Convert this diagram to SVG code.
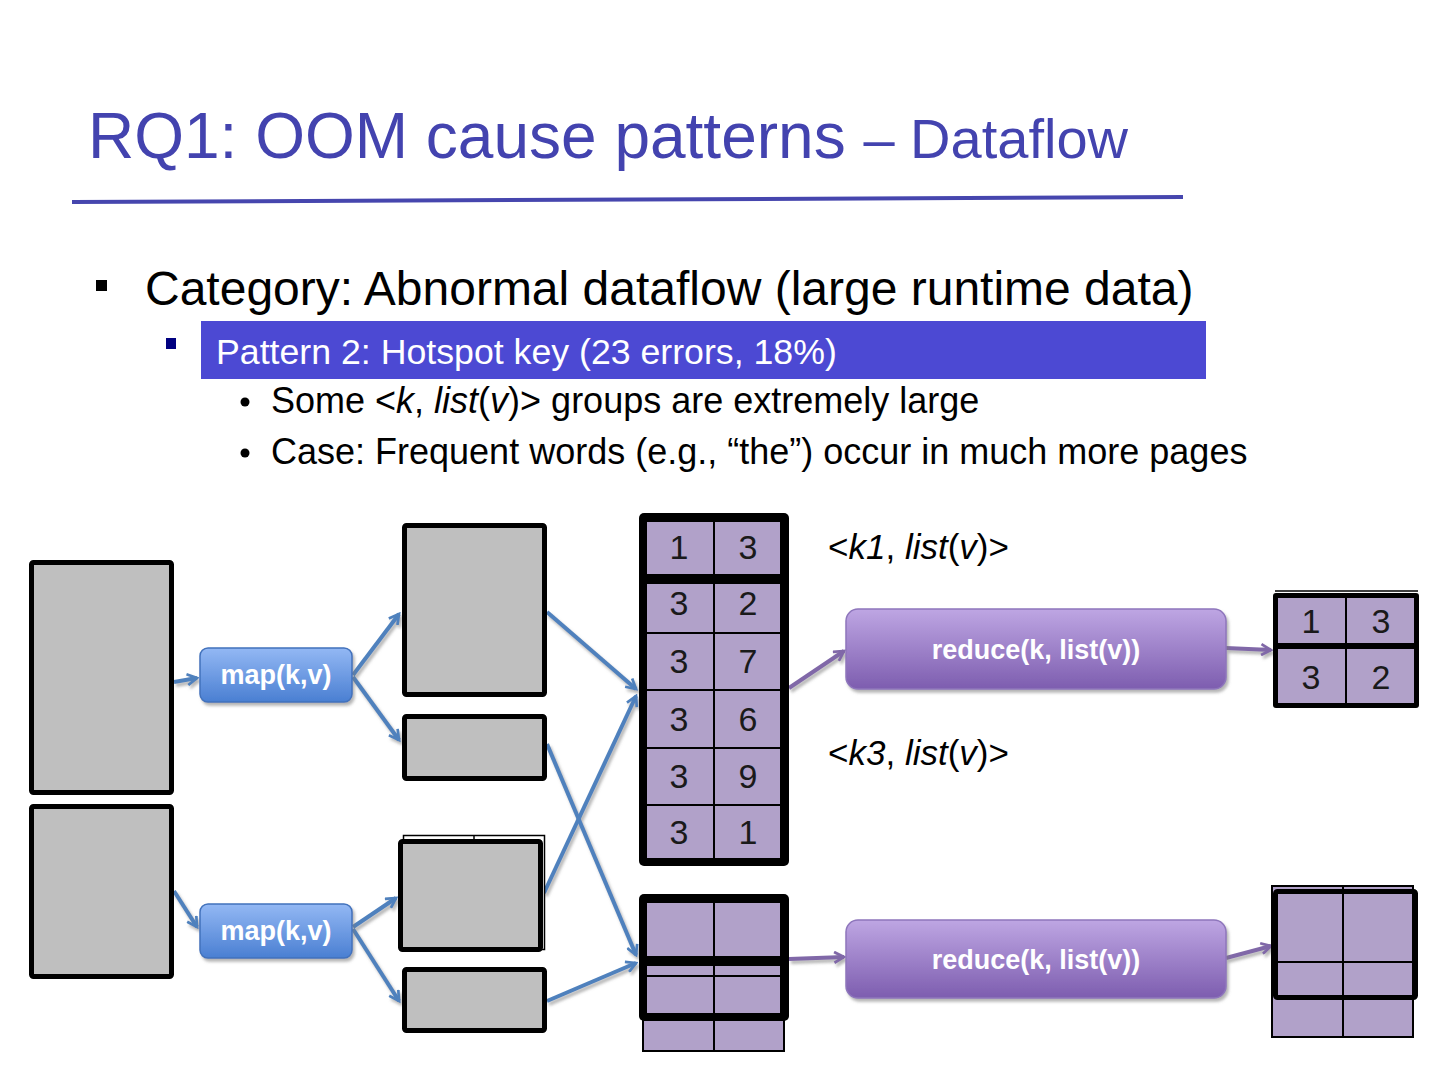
<svg xmlns="http://www.w3.org/2000/svg" width="1440" height="1080" viewBox="0 0 1440 1080">
<defs>
<style>
text{font-family:"Liberation Sans",Arial,sans-serif}
.title{fill:#4343AF}
.body{fill:#000}
.box{fill:#BFBFBF;stroke:#000;stroke-width:5}
.cell{fill:#B1A1C9}
.num{font-size:34px;fill:#1a1a1a;text-anchor:middle}
.btn{font-weight:bold;fill:#fff;text-anchor:middle}
.blue{fill:none;stroke:#4F81BD;stroke-width:4;marker-end:url(#ab)}
.purp{fill:none;stroke:#8068A8;stroke-width:4;marker-end:url(#ap)}
.thin{fill:none;stroke:#000;stroke-width:2}
</style>
<linearGradient id="gMap" x1="0" y1="0" x2="0" y2="1">
<stop offset="0" stop-color="#93B8F4"/>
<stop offset="1" stop-color="#4A7FD2"/>
</linearGradient>
<linearGradient id="gRed" x1="0" y1="0" x2="0" y2="1">
<stop offset="0" stop-color="#BEA6E3"/>
<stop offset="1" stop-color="#7D5DAF"/>
</linearGradient>
<filter id="sh" x="-20%" y="-20%" width="140%" height="140%">
<feDropShadow dx="2" dy="3" stdDeviation="1.5" flood-color="#777" flood-opacity="0.55"/>
</filter>
<marker id="ab" viewBox="0 0 12 12" refX="10" refY="6" markerWidth="13" markerHeight="13" markerUnits="userSpaceOnUse" orient="auto">
<path d="M1,1 L10,6 L1,11" fill="none" stroke="#4F81BD" stroke-width="2.5"/>
</marker>
<marker id="ap" viewBox="0 0 12 12" refX="10" refY="6" markerWidth="13" markerHeight="13" markerUnits="userSpaceOnUse" orient="auto">
<path d="M1,1 L10,6 L1,11" fill="none" stroke="#8068A8" stroke-width="2.5"/>
</marker>
</defs>
<rect width="1440" height="1080" fill="#fff"/>

<g id="header">
<text x="88" y="158" class="title" font-size="64">RQ1: OOM cause patterns <tspan font-size="56">– Dataflow</tspan></text>
<line x1="72" y1="202" x2="1183" y2="197" stroke="#4646AE" stroke-width="4"/>
<rect x="96" y="280" width="11" height="11" fill="#000"/>
<text x="145" y="305" class="body" font-size="48">Category: Abnormal dataflow (large runtime data)</text>
<rect x="166" y="338" width="10" height="11" fill="#000080"/>
<rect x="201" y="321" width="1005" height="58" fill="#4C49D3"/>
<text x="216" y="364" font-size="35.7" fill="#fff">Pattern 2: Hotspot key (23 errors, 18%)</text>
<circle cx="245" cy="402" r="4.5" fill="#000"/>
<text x="271" y="413" class="body" font-size="36">Some &lt;<tspan font-style="italic">k</tspan>, <tspan font-style="italic">list</tspan>(<tspan font-style="italic">v</tspan>)&gt; groups are extremely large</text>
<circle cx="245" cy="453" r="4.5" fill="#000"/>
<text x="271" y="464" class="body" font-size="36">Case: Frequent words (e.g., “the”) occur in much more pages</text>
</g>

<g id="connectors">
<g filter="url(#sh)">
<path class="blue" d="M174,682 L197,678"/>
<path class="blue" d="M174,891 L197,927"/>
<path class="blue" d="M353,675 L399,614"/>
<path class="blue" d="M353,677 L399,740"/>
<path class="blue" d="M353,927 L396,898"/>
<path class="blue" d="M353,929 L399,1001"/>
<path class="blue" d="M547,612 L636,689"/>
<path class="blue" d="M547,744 L636,955"/>
<path class="blue" d="M544,893 L636,696"/>
<path class="blue" d="M547,1001 L636,963"/>
<path class="purp" d="M789,688 L844,651"/>
<path class="purp" d="M1226,648 L1271,650"/>
<path class="purp" d="M789,959 L844,957"/>
<path class="purp" d="M1226,958 L1271,946"/>
</g>
</g>

<g id="inputA"><rect class="box" x="31.5" y="562.5" width="140" height="230" rx="2"/></g>
<g id="inputB"><rect class="box" x="31.5" y="806.5" width="140" height="170" rx="2"/></g>

<g id="map1">
<rect x="200" y="648" width="152" height="54" rx="8" fill="url(#gMap)" stroke="#4272BC" stroke-width="1.5" filter="url(#sh)"/>
<text x="276" y="684" class="btn" font-size="27">map(k,v)</text>
</g>
<g id="map2">
<rect x="200" y="904" width="152" height="54" rx="8" fill="url(#gMap)" stroke="#4272BC" stroke-width="1.5" filter="url(#sh)"/>
<text x="276" y="940" class="btn" font-size="27">map(k,v)</text>
</g>

<g id="boxC"><rect class="box" x="404.5" y="525.5" width="140" height="169" rx="2"/></g>
<g id="boxD"><rect class="box" x="404.5" y="716.5" width="140" height="62" rx="2"/></g>
<g id="boxE">
<rect x="403.5" y="835.5" width="141" height="114" fill="#fff" stroke="#000" stroke-width="1.5"/>
<line x1="474" y1="835" x2="474" y2="842" stroke="#000" stroke-width="1.5"/>
<rect class="box" x="400.5" y="841.5" width="140" height="108" rx="2"/>
</g>
<g id="boxF"><rect class="box" x="404.5" y="969.5" width="140" height="61" rx="2"/></g>

<g id="tableMain">
<rect x="639" y="513" width="150" height="353" rx="5" fill="#000"/>
<rect class="cell" x="647" y="522" width="66" height="52"/>
<rect class="cell" x="715" y="522" width="65" height="52"/>
<rect class="cell" x="647" y="584" width="66" height="48"/>
<rect class="cell" x="715" y="584" width="65" height="48"/>
<rect class="cell" x="647" y="634" width="66" height="55"/>
<rect class="cell" x="715" y="634" width="65" height="55"/>
<rect class="cell" x="647" y="691" width="66" height="56"/>
<rect class="cell" x="715" y="691" width="65" height="56"/>
<rect class="cell" x="647" y="749" width="66" height="55"/>
<rect class="cell" x="715" y="749" width="65" height="55"/>
<rect class="cell" x="647" y="806" width="66" height="52"/>
<rect class="cell" x="715" y="806" width="65" height="52"/>
<text class="num" x="679" y="559">1</text><text class="num" x="748" y="559">3</text>
<text class="num" x="679" y="615">3</text><text class="num" x="748" y="615">2</text>
<text class="num" x="679" y="673">3</text><text class="num" x="748" y="673">7</text>
<text class="num" x="679" y="731">3</text><text class="num" x="748" y="731">6</text>
<text class="num" x="679" y="788">3</text><text class="num" x="748" y="788">9</text>
<text class="num" x="679" y="844">3</text><text class="num" x="748" y="844">1</text>
</g>

<g id="tableBottom">
<rect class="cell" x="643" y="1019" width="141" height="32" stroke="#000" stroke-width="2"/>
<line x1="714" y1="1019" x2="714" y2="1051" stroke="#000" stroke-width="2"/>
<rect x="639" y="894" width="150" height="127" rx="5" fill="#000"/>
<rect class="cell" x="647" y="903" width="66" height="53"/>
<rect class="cell" x="715" y="903" width="65" height="53"/>
<rect class="cell" x="647" y="966" width="66" height="9"/>
<rect class="cell" x="715" y="966" width="65" height="9"/>
<rect class="cell" x="647" y="977" width="66" height="36"/>
<rect class="cell" x="715" y="977" width="65" height="36"/>
</g>

<g id="labelK1"><text x="828" y="559" font-size="35" fill="#000">&lt;<tspan font-style="italic">k1</tspan>, <tspan font-style="italic">list</tspan>(<tspan font-style="italic">v</tspan>)&gt;</text></g>
<g id="labelK3"><text x="828" y="765" font-size="35" fill="#000">&lt;<tspan font-style="italic">k3</tspan>, <tspan font-style="italic">list</tspan>(<tspan font-style="italic">v</tspan>)&gt;</text></g>

<g id="reduce1">
<rect x="846" y="609" width="380" height="80" rx="12" fill="url(#gRed)" stroke="#8E76BC" stroke-width="1.5" filter="url(#sh)"/>
<text x="1036" y="659" class="btn" font-size="27">reduce(k, list(v))</text>
</g>
<g id="reduce2">
<rect x="846" y="920" width="380" height="78" rx="12" fill="url(#gRed)" stroke="#8E76BC" stroke-width="1.5" filter="url(#sh)"/>
<text x="1036" y="969" class="btn" font-size="27">reduce(k, list(v))</text>
</g>

<g id="tableOut1">
<line x1="1275" y1="591" x2="1418" y2="591" stroke="#000" stroke-width="1.5"/>
<rect x="1273" y="593" width="146" height="115" rx="3" fill="#000"/>
<rect class="cell" x="1278" y="598" width="67" height="45"/>
<rect class="cell" x="1347" y="598" width="67" height="45"/>
<rect class="cell" x="1278" y="649" width="67" height="54"/>
<rect class="cell" x="1347" y="649" width="67" height="54"/>
<text class="num" x="1311" y="633">1</text><text class="num" x="1381" y="633">3</text>
<text class="num" x="1311" y="689">3</text><text class="num" x="1381" y="689">2</text>
</g>

<g id="tableOut2">
<rect class="cell" x="1272" y="886" width="141" height="151" stroke="#000" stroke-width="2"/>
<line x1="1343" y1="886" x2="1343" y2="1037" stroke="#000" stroke-width="2"/>
<line x1="1272" y1="962" x2="1413" y2="962" stroke="#000" stroke-width="2"/>
<rect x="1275.5" y="891.5" width="140" height="106" fill="none" stroke="#000" stroke-width="5" rx="2"/>
</g>
</svg>
